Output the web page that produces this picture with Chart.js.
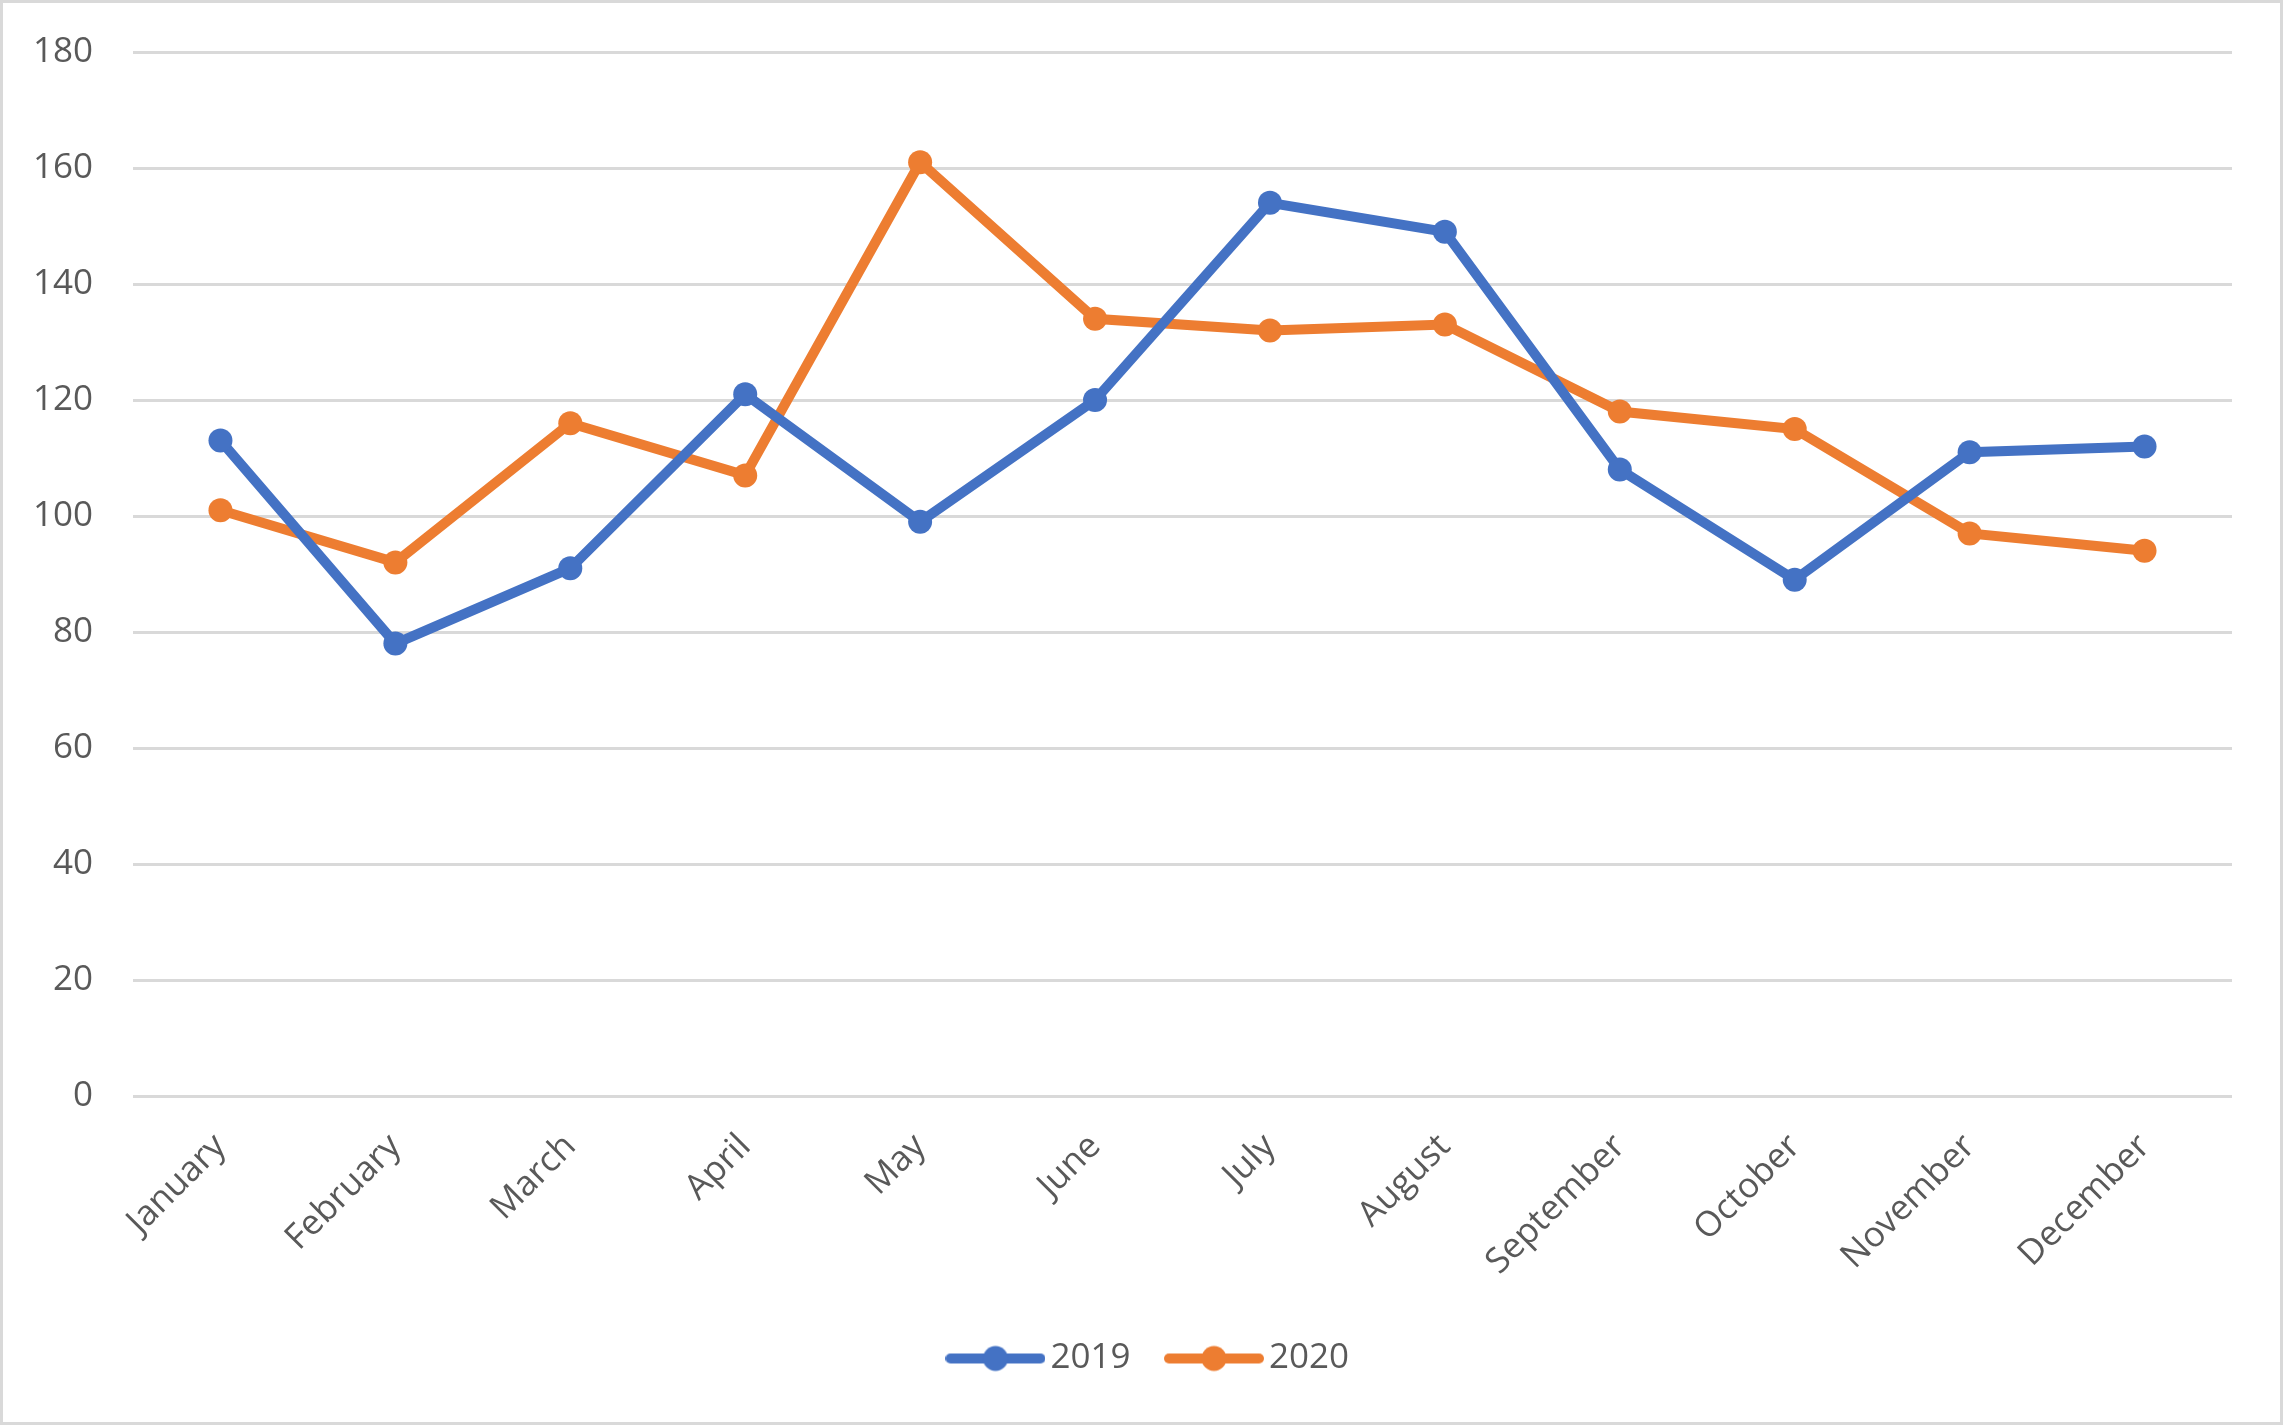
<!DOCTYPE html>
<html>
<head>
<meta charset="utf-8">
<script src="https://cdn.jsdelivr.net/npm/chart.js@4/dist/chart.umd.min.js"></script>
<style>
    html, body { margin: 0; padding: 0; background: #fff; }
    #wrap {
        width: 2283px;
        height: 1425px;
        box-sizing: border-box;
        border: 3px solid #d9d9d9;
        background: #fff;
    }
    canvas { display: block; }
</style>
</head>
<body>
<div id="wrap"><canvas id="sales-chart" width="2277" height="1419"></canvas></div>
<script>
const months = ['January', 'February', 'March', 'April', 'May', 'June',
    'July', 'August', 'September', 'October', 'November', 'December'];
const values2019 = [113, 78, 91, 121, 99, 120, 154, 149, 108, 89, 111, 112];
const values2020 = [101, 92, 116, 107, 161, 134, 132, 133, 118, 115, 97, 94];
const yTicks = [0, 20, 40, 60, 80, 100, 120, 140, 160, 180];

const BLUE = '#4472C4';
const ORANGE = '#ED7D31';
const TEXT = '#595959';
const GRID = '#d9d9d9';
const FONT = "'Open Sans', 'Noto Sans', sans-serif";

// legend swatch: line with a dot in the middle, like the office style
const makeSwatch = (color) => {
    const c = document.createElement('canvas');
    c.width = 100;
    c.height = 28;
    const g = c.getContext('2d');
    g.strokeStyle = color;
    g.lineWidth = 10;
    g.lineCap = 'round';
    g.beginPath();
    g.moveTo(5, 14);
    g.lineTo(95, 14);
    g.stroke();
    g.fillStyle = color;
    g.beginPath();
    g.arc(50, 14, 12.5, 0, Math.PI * 2);
    g.fill();
    return c;
};

const swatches = [makeSwatch(BLUE), makeSwatch(ORANGE)];

// the legend box stops at the right padding, so nudge it back to the page centre
const legendShift = {
    id: 'legendShift',
    afterLayout: (chart) => {
        chart.legend.left += 36;
        chart.legend.right += 36;
    }
};

const ctx = document.getElementById('sales-chart').getContext('2d');

new Chart(ctx, {
    type: 'line',
    data: {
        labels: months,
        datasets: [{
            label: '2019',
            data: values2019,
            borderColor: BLUE,
            backgroundColor: BLUE,
            borderWidth: 10,
            pointRadius: 12,
            pointHoverRadius: 12,
            pointBorderWidth: 0,
            tension: 0
        }, {
            label: '2020',
            data: values2020,
            borderColor: ORANGE,
            backgroundColor: ORANGE,
            borderWidth: 10,
            pointRadius: 12,
            pointHoverRadius: 12,
            pointBorderWidth: 0,
            tension: 0
        }]
    },
    plugins: [legendShift],
    options: {
        responsive: false,
        animation: false,
        layout: {
            padding: { top: 49, right: 48, bottom: 36, left: 0 }
        },
        plugins: {
            tooltip: { enabled: false },
            legend: {
                position: 'bottom',
                labels: {
                    usePointStyle: true,
                    pointStyleWidth: 75,
                    boxHeight: 28,
                    padding: 46,
                    color: TEXT,
                    font: { family: FONT, size: 35 },
                    generateLabels: (chart) => {
                        const items = Chart.defaults.plugins.legend.labels.generateLabels(chart);
                        items.forEach((item, i) => { item.pointStyle = swatches[i]; });
                        return items;
                    }
                }
            }
        },
        scales: {
            x: {
                offset: true,
                grid: { display: false, drawTicks: false },
                border: { display: false },
                ticks: {
                    color: TEXT,
                    font: { family: FONT, size: 35 },
                    minRotation: 45,
                    maxRotation: 45,
                    padding: 30,
                    autoSkip: false
                },
                afterFit: (scale) => { scale.height = 199; }
            },
            y: {
                min: 0,
                max: 180,
                afterBuildTicks: (scale) => {
                    scale.ticks = yTicks.map(v => ({ value: v }));
                },
                grid: { color: GRID, lineWidth: 3, drawTicks: false },
                border: { display: false },
                ticks: {
                    color: TEXT,
                    font: { family: FONT, size: 35 },
                    padding: 40
                },
                afterFit: (scale) => {
                    scale.width = 130;
                    scale.paddingTop = 0;
                    scale.paddingBottom = 0;
                }
            }
        }
    }
});
</script>
</body>
</html>
